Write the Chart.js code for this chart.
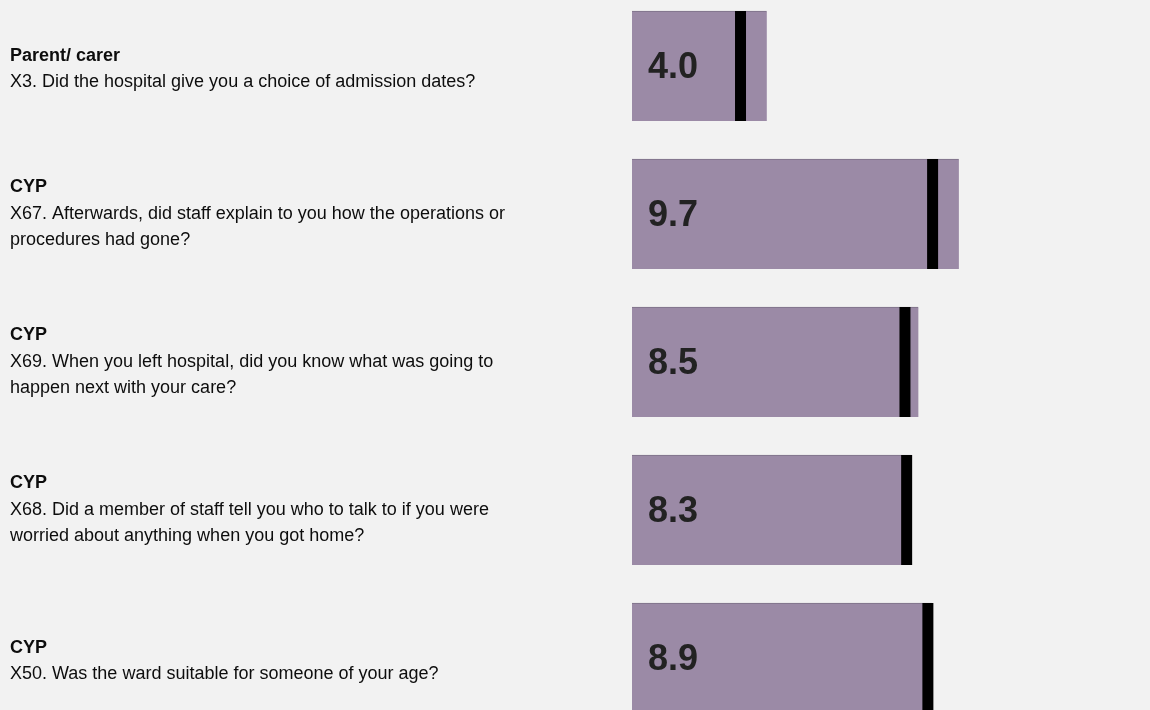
<!DOCTYPE html>
<html>
<head>
<meta charset="utf-8">
<script src="https://cdn.jsdelivr.net/npm/chart.js@4/dist/chart.umd.min.js"></script>
<style>
    html, body {margin: 0; padding: 0; background: #f2f2f2; overflow: hidden;}
    #wrap {position: absolute; left: 0; top: -8px; width: 1150px; height: 740px;}
</style>
</head>
<body>
<div id="wrap"><canvas id="myChart"></canvas></div>
<script>
const groups = ['Parent/ carer', 'CYP', 'CYP', 'CYP', 'CYP'];
const questions = [
    ['X3. Did the hospital give you a choice of admission dates?'],
    ['X67. Afterwards, did staff explain to you how the operations or', 'procedures had gone?'],
    ['X69. When you left hospital, did you know what was going to', 'happen next with your care?'],
    ['X68. Did a member of staff tell you who to talk to if you were', 'worried about anything when you got home?'],
    ['X50. Was the ward suitable for someone of your age?']
];
const scores = [4.0, 9.7, 8.5, 8.3, 8.9];
const markers = [3.22, 8.92, 8.1, 8.15, 8.78];

const labelPlugin = {
    id: 'labels',
    afterDatasetsDraw(chart) {
        const c = chart.ctx, y = chart.scales.y, x = chart.scales.x;
        c.save();
        c.textBaseline = 'middle';
        c.textAlign = 'left';
        const lh = 26.5;
        groups.forEach(function (g, i) {
            const lines = [g].concat(questions[i]);
            const cy = y.getPixelForValue(i) + (lines.length === 2 ? 3 : 0);
            let top = cy - (lines.length - 1) * lh / 2;
            lines.forEach(function (t, k) {
                c.font = (k === 0 ? 'bold ' : '') + '18px "Liberation Sans", Arial, sans-serif';
                c.fillStyle = '#0d0d0d';
                c.fillText(t, 10, top + k * lh);
            });
            c.font = 'bold 36px "Liberation Sans", Arial, sans-serif';
            c.fillStyle = '#222';
            c.fillText(scores[i].toFixed(1), x.getPixelForValue(0) + 16, y.getPixelForValue(i) + 2);
        });
        c.restore();
    }
};

new Chart(document.getElementById('myChart'), {
    type: 'bar',
    plugins: [labelPlugin],
    data: {
        labels: groups.map(function (g, i) { return i; }),
        datasets: [
            {
                type: 'line',
                data: markers,
                showLine: false,
                pointStyle: 'line',
                rotation: 90,
                radius: 55,
                hoverRadius: 55,
                borderWidth: 11,
                pointBorderColor: '#000',
                borderColor: '#000'
            },
            {
                data: scores,
                backgroundColor: '#9b8aa6',
                borderColor: '#7d7187',
                borderWidth: {top: 1, left: 0, right: 0, bottom: 0},
                borderSkipped: false,
                barThickness: 110
            }
        ]
    },
    options: {
        indexAxis: 'y',
        responsive: true,
        maintainAspectRatio: false,
        animation: false,
        layout: {autoPadding: false, padding: {left: 632, right: 181, top: 0, bottom: 0}},
        plugins: {legend: {display: false}, tooltip: {enabled: false}},
        scales: {
            x: {display: false, min: 0, max: 10},
            y: {display: false}
        }
    }
});
</script>
</body>
</html>
